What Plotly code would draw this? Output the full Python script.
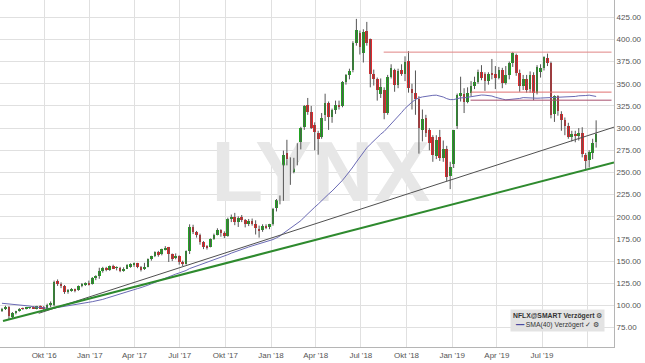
import plotly.graph_objects as go
import pandas as pd

# ---- weekly candles (Fridays) from 2016-07-08 ----
week_start = "2016-07-08"
opens = [94.0, 95.5, 98.6, 87.0, 91.0, 93.6, 96.4, 96.0, 97.3, 97.6, 96.8, 99.0, 97.2, 96.5, 100.0,
         101.0, 127.5, 124.0, 121.5, 115.5, 116.5, 118.5, 117.0, 122.0, 123.5, 125.5,
         124.0, 131.0, 133.5, 139.0, 142.0, 140.5, 144.0, 142.5, 142.5, 139.5, 141.5, 143.5, 146.0,
         147.5, 143.0, 141.0, 143.5, 152.0, 155.5, 160.0, 157.5, 163.5, 165.5, 157.5, 153.0, 155.5,
         149.5, 147.0, 161.5, 188.0, 182.5, 180.0, 171.0, 166.0, 166.0, 175.0, 180.0, 185.0, 182.0,
         178.5, 198.0, 200.0, 194.0, 199.5, 196.5, 192.0, 195.5, 191.5, 186.5, 185.0, 190.0, 188.0,
         192.0, 209.5, 218.5, 222.0, 272.0, 264.0, 251.0, 262.0, 279.0, 301.0, 326.0, 318.0, 304.0,
         294.0, 290.0, 315.0, 328.0, 312.0, 320.0, 326.0, 325.0, 352.0, 359.5, 365.0, 396.0, 407.0,
         385.0, 409.0, 400.0, 360.5, 355.0, 338.0, 343.0, 317.0, 358.0, 366.0, 349.0, 365.0, 361.0,
         376.0, 344.0, 340.0, 333.0, 298.0, 311.0, 298.0, 290.0, 268.0, 290.0, 266.0, 277.0, 246.0,
         259.0, 302.0, 337.0, 338.0, 330.0, 340.0, 348.0, 352.0, 363.0, 361.0, 353.0, 362.0, 361.0,
         357.0, 366.0, 351.0, 360.0, 374.0, 383.0, 362.0, 347.0, 355.0, 344.0, 360.0, 340.0, 363.0,
         368.0, 379.0, 373.0, 316.0, 336.0, 316.0, 309.0, 302.0, 290.0, 293.0, 291.0, 295.0, 270.0,
         264.0, 272.0, 284.0]
highs = [97.2, 99.6, 99.2, 92.5, 94.0, 97.0, 97.6, 98.3, 98.4, 99.3, 99.5, 100.0, 99.2, 102.0, 104.5,
         128.0, 129.3, 126.0, 123.0, 118.5, 119.5, 119.0, 122.5, 125.2, 126.0, 128.0,
         132.0, 134.0, 142.5, 143.5, 143.5, 145.0, 145.9, 144.0, 143.5, 143.0, 146.5, 147.5, 148.3,
         148.0, 144.5, 148.0, 153.0, 156.0, 161.0, 161.5, 164.0, 166.9, 166.0, 158.5, 158.7, 156.5,
         150.5, 162.0, 191.5, 191.0, 184.0, 181.0, 172.5, 168.0, 175.5, 181.0, 187.0, 186.0, 183.5,
         199.0, 202.5, 204.4, 200.5, 202.0, 197.5, 197.5, 198.0, 196.0, 190.0, 191.5, 191.5, 192.0,
         210.0, 220.0, 224.0, 274.6, 286.8, 267.0, 266.5, 283.0, 301.5, 326.0, 334.0, 325.0, 306.5,
         297.0, 317.0, 338.8, 330.0, 322.0, 331.0, 331.0, 353.0, 361.0, 367.0, 398.0, 423.2, 410.0,
         411.5, 419.8, 401.0, 366.0, 357.0, 356.0, 346.0, 360.0, 372.0, 367.0, 367.0, 372.0, 381.0,
         386.8, 350.0, 365.0, 336.0, 321.0, 315.0, 300.0, 292.0, 292.0, 298.0, 286.0, 280.0, 262.0,
         298.0, 339.0, 358.0, 345.0, 346.0, 353.0, 358.0, 366.0, 371.0, 363.0, 363.0, 378.0, 370.0,
         369.0, 368.0, 370.0, 375.0, 386.0, 384.0, 366.0, 360.0, 360.0, 364.0, 363.0, 371.0, 372.0,
         381.0, 384.0, 375.0, 337.0, 337.0, 319.0, 312.0, 306.0, 297.0, 297.0, 300.0, 301.0, 272.0,
         275.0, 288.0, 308.75]
lows = [92.6, 94.8, 84.5, 85.5, 89.9, 93.0, 94.9, 95.5, 96.0, 96.0, 95.5, 96.5, 95.0, 95.8, 98.0,
        99.0, 122.0, 119.5, 113.0, 113.2, 115.5, 114.8, 116.5, 120.5, 122.0, 122.5,
        123.5, 128.5, 130.0, 137.0, 138.5, 139.0, 141.0, 139.5, 137.5, 138.0, 141.0, 142.5, 143.5,
        142.0, 138.3, 140.0, 143.0, 150.5, 154.5, 155.0, 156.5, 162.0, 149.0, 150.0, 152.0, 146.0,
        144.5, 146.0, 158.0, 180.5, 176.5, 168.5, 163.5, 163.0, 165.5, 174.0, 179.0, 177.5, 176.0,
        177.5, 194.0, 190.5, 188.5, 194.0, 188.0, 189.5, 190.0, 180.0, 176.5, 183.0, 186.0, 186.0,
        190.0, 206.0, 214.0, 218.0, 258.0, 236.0, 249.0, 258.0, 276.0, 298.0, 315.0, 299.0, 275.0,
        270.0, 288.0, 308.0, 298.0, 306.0, 316.0, 321.0, 323.5, 349.0, 355.0, 363.0, 393.0, 383.0,
        374.0, 393.0, 346.0, 348.0, 331.0, 334.0, 310.0, 315.0, 356.0, 341.0, 345.0, 359.0, 353.0,
        340.0, 321.0, 315.0, 271.2, 285.0, 290.0, 275.0, 262.0, 265.0, 263.0, 262.0, 240.0, 231.2,
        255.0, 299.0, 330.0, 317.0, 328.0, 336.0, 344.0, 350.0, 354.0, 342.0, 349.0, 355.0, 344.0,
        355.0, 345.0, 349.0, 355.0, 369.0, 359.0, 341.0, 343.0, 340.0, 340.0, 331.5, 338.0, 357.0,
        365.0, 370.0, 311.0, 307.0, 314.0, 297.0, 292.0, 288.0, 285.0, 284.0, 286.0, 267.0, 252.3,
        255.5, 265.0, 278.0]
closes = [95.1, 98.4, 88.5, 91.3, 93.5, 96.4, 96.0, 97.3, 97.4, 96.6, 98.9, 97.0, 96.0, 100.5, 102.5,
          126.5, 124.2, 121.5, 115.5, 116.5, 118.8, 116.8, 121.9, 124.5, 125.5, 123.8,
          131.0, 133.2, 138.6, 142.5, 140.2, 144.0, 142.2, 142.8, 139.0, 141.5, 145.5, 146.2, 147.8,
          143.2, 140.5, 143.5, 152.2, 155.3, 160.3, 157.0, 163.2, 165.2, 158.0, 152.5, 155.5, 149.4,
          146.8, 161.7, 188.5, 182.5, 180.0, 171.0, 166.0, 165.5, 174.7, 180.0, 185.5, 181.5, 178.0,
          198.0, 199.5, 194.2, 199.0, 196.5, 192.0, 195.5, 191.5, 186.8, 184.5, 190.0, 188.0, 191.5,
          209.0, 218.5, 220.5, 270.0, 265.0, 249.5, 262.0, 278.5, 300.5, 325.0, 318.5, 300.5, 295.4,
          288.0, 311.0, 328.0, 312.5, 320.0, 326.0, 324.5, 351.6, 359.5, 364.5, 395.8, 411.1, 391.4,
          408.0, 395.8, 361.0, 355.2, 343.0, 346.0, 316.8, 358.0, 367.7, 348.7, 364.6, 361.2, 374.1,
          345.7, 339.6, 332.7, 299.8, 310.0, 295.0, 283.0, 270.0, 287.0, 266.0, 276.0, 245.0, 256.0,
          297.6, 337.6, 339.1, 330.0, 340.0, 348.0, 352.0, 363.0, 357.0, 353.0, 361.0, 361.0, 356.6,
          366.0, 351.1, 360.4, 374.0, 385.0, 362.0, 347.0, 355.0, 343.3, 360.0, 339.7, 369.0, 368.0,
          380.0, 373.0, 315.1, 335.8, 319.0, 309.6, 302.8, 289.5, 293.8, 291.1, 294.3, 270.8, 263.1,
          272.8, 282.9, 293.4]
# 39 weekly closes before the first candle (Oct 2015 - Jul 2016), feeding the SMA(40)
prior_closes = [110, 101, 102, 108, 111, 108, 121, 124, 129, 120, 118, 117, 114, 107, 104, 101,
                92, 83, 87, 91, 93, 98, 98, 101, 102, 105, 104, 111, 96, 90, 92, 90, 94, 102,
                102, 98, 92, 89, 97]

# ---- drawn lines ----
green_trend_dates = ["2016-07-10", "2019-11-23"]
green_trend_vals = [82.4, 261.2]
grey_trend_dates = ["2016-09-20", "2019-11-23"]
grey_trend_vals = [91.1, 301.1]
red_levels = [385.7, 340.6, 331.5]
red_starts = ["2018-08-16", "2019-02-08", "2019-02-07"]
red_end = "2019-11-18"
red_colors = ["#e08585", "#e07070", "#a8506e"]

# watermark text and its anchor
wm_text = "LYNX"
wm_date = "2018-04-11"
wm_level = 242

tick_dates = ["2016-10-01", "2017-01-01", "2017-04-01", "2017-07-01", "2017-10-01",
              "2018-01-01", "2018-04-01", "2018-07-01", "2018-10-01", "2019-01-01",
              "2019-04-01", "2019-07-01", "2019-10-01"]
tick_text = ["Okt '16", "Jan '17", "Apr '17", "Jul '17", "Okt '17", "Jan '18", "Apr '18",
             "Jul '18", "Okt '18", "Jan '19", "Apr '19", "Jul '19", ""]
y_ticks = [75, 100, 125, 150, 175, 200, 225, 250, 275, 300, 325, 350, 375, 400, 425]

dates = pd.date_range(week_start, periods=len(closes), freq="7D")
sma = pd.Series(prior_closes + closes).rolling(40).mean().iloc[len(prior_closes):].tolist()

fig = go.Figure()

# watermark (drawn first so it sits below everything)
fig.add_trace(go.Scatter(x=[pd.Timestamp(wm_date)], y=[wm_level], mode="text",
                         text=[f"<b>{wm_text}</b>"],
                         textfont=dict(family="Liberation Sans Narrow, Arial Narrow, Liberation Sans",
                                       size=85, color="#e7e7e7"),
                         hoverinfo="skip", showlegend=False))

# wicks
wx, wy = [], []
for d, h, l in zip(dates, highs, lows):
    wx += [d, d, None]
    wy += [l, h, None]
fig.add_trace(go.Scatter(x=wx, y=wy, mode="lines", line=dict(color="#555555", width=1),
                         hoverinfo="skip", showlegend=False))

# bodies
bw = 5.4 * 86400000
for up, col in ((True, "#22a322"), (False, "#e2282c")):
    xs, hs, bs = [], [], []
    for d, o, c in zip(dates, opens, closes):
        if (c >= o) == up:
            xs.append(d)
            hs.append(max(abs(c - o), 0.6))
            bs.append(min(o, c))
    fig.add_trace(go.Bar(x=xs, y=hs, base=bs, width=bw, marker=dict(color=col, line=dict(width=0)),
                         showlegend=False, hoverinfo="skip"))

# SMA(40)
fig.add_trace(go.Scatter(x=dates, y=sma, mode="lines", line=dict(color="#6a6ab4", width=1),
                         showlegend=False, hoverinfo="skip"))

# trend lines
fig.add_trace(go.Scatter(x=grey_trend_dates, y=grey_trend_vals, mode="lines",
                         line=dict(color="#505050", width=1), showlegend=False, hoverinfo="skip"))
fig.add_trace(go.Scatter(x=green_trend_dates, y=green_trend_vals, mode="lines",
                         line=dict(color="#2e8a2e", width=2), showlegend=False, hoverinfo="skip"))
for lvl, st, col in zip(red_levels, red_starts, red_colors):
    fig.add_trace(go.Scatter(x=[st, red_end], y=[lvl, lvl], mode="lines",
                             line=dict(color=col, width=1), showlegend=False, hoverinfo="skip"))

fig.update_layout(
    width=645, height=363,
    margin=dict(l=0, r=31, t=0, b=16),
    paper_bgcolor="white", plot_bgcolor="white",
    barmode="overlay", bargap=0,
    font=dict(family="Liberation Sans, Arial, sans-serif", size=8, color="#555555"),
    xaxis=dict(type="date", range=["2016-07-04", "2019-11-23"], tickvals=tick_dates, ticktext=tick_text,
               showgrid=True, gridcolor="#e0e0e0", gridwidth=1, showline=True, linecolor="#b5b5b5",
               ticks="", zeroline=False, tickfont=dict(size=8, color="#555555")),
    yaxis=dict(side="right", range=[53.1, 444.5], tickvals=y_ticks,
               ticktext=[f"{v:.2f}" for v in y_ticks], showgrid=True, gridcolor="#e0e0e0",
               showline=True, linecolor="#b5b5b5", ticks="", zeroline=False,
               tickfont=dict(size=8, color="#555555")),
    annotations=[dict(
        xref="paper", yref="paper", x=0.986, y=0.042, xanchor="right", yanchor="bottom",
        text="<b>NFLX@SMART Verzögert</b> ⚙<br><span style='color:#4a4aa0'>━━</span> SMA(40) Verzögert ✓ ⚙",
        showarrow=False, align="center", bgcolor="#e3e3e3", borderpad=2,
        font=dict(size=6.8, color="#333333", family="Liberation Sans, Arial, sans-serif"))],
)

fig.write_html("out.html")
